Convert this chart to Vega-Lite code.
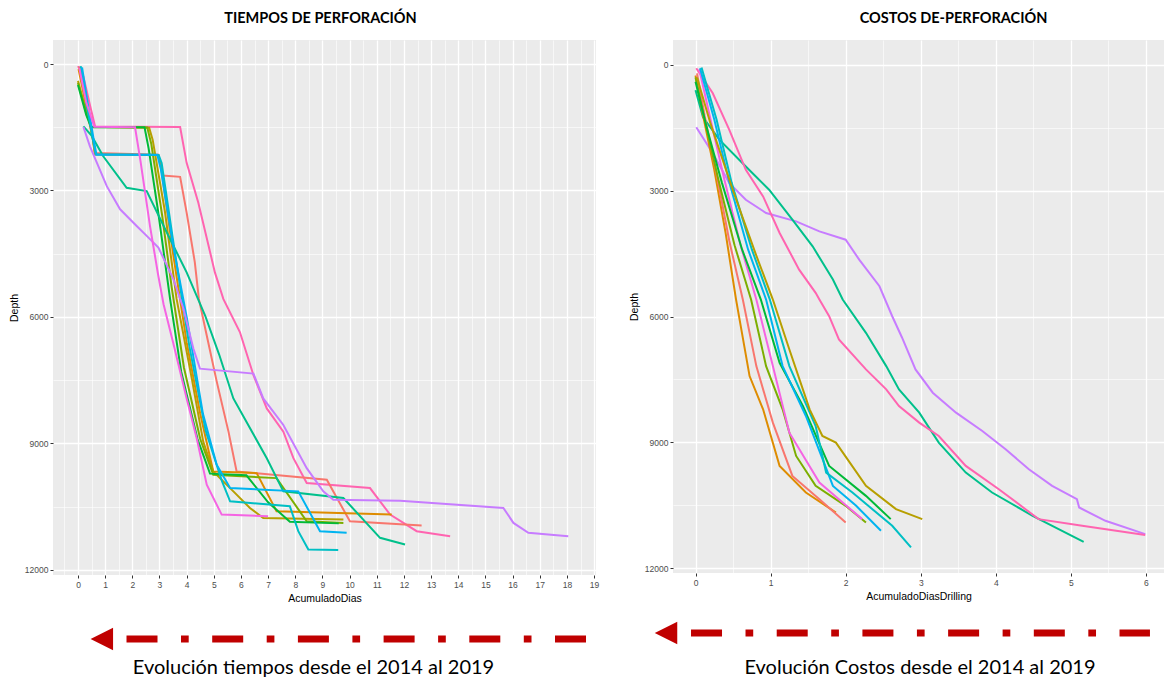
{
"$schema": "https://vega.github.io/schema/vega-lite/v6.json",
"padding": {"left": 9, "top": 10, "right": 0, "bottom": 0},
"spacing": 30,
"config": {
  "view": {"fill": "#EBEBEB", "stroke": null},
  "font": "Liberation Sans",
  "axis": {"labelFont": "Liberation Sans", "labelFontSize": 8.5, "labelColor": "#4D4D4D", "tickColor": "#333333", "tickSize": 3, "tickWidth": 1, "domain": false, "gridColor": "#FFFFFF", "gridWidth": 1.3, "titleFont": "Liberation Sans", "titleFontSize": 10.5, "titleFontWeight": "normal", "titleColor": "#000000", "labelPadding": 2},
  "title": {"font": "Lato", "fontSize": 14.5, "fontWeight": "bold", "color": "#000000"}
},
"datasets": {
"left": [
{"w":"W12","x":0.0,"d":50},{"w":"W12","x":0.2,"d":300},{"w":"W12","x":0.45,"d":1000},{"w":"W12","x":0.63,"d":1480},{"w":"W12","x":3.76,"d":1495},{"w":"W12","x":4.0,"d":2346},{"w":"W12","x":4.43,"d":3290},{"w":"W12","x":5.04,"d":4944},{"w":"W12","x":5.35,"d":5574},{"w":"W12","x":5.96,"d":6360},{"w":"W12","x":6.46,"d":7385},{"w":"W12","x":6.95,"d":8172},{"w":"W12","x":7.56,"d":8723},{"w":"W12","x":7.93,"d":9353},{"w":"W12","x":8.42,"d":9944},{"w":"W12","x":10.75,"d":10062},{"w":"W12","x":11.49,"d":10692},{"w":"W12","x":12.47,"d":11085},{"w":"W12","x":13.7,"d":11203},
{"w":"W01","x":0.05,"d":60},{"w":"W01","x":0.32,"d":1008},{"w":"W01","x":0.55,"d":1800},{"w":"W01","x":0.63,"d":2110},{"w":"W01","x":2.96,"d":2150},{"w":"W01","x":3.12,"d":2645},{"w":"W01","x":3.76,"d":2677},{"w":"W01","x":4.0,"d":3527},{"w":"W01","x":4.3,"d":4700},{"w":"W01","x":4.45,"d":5574},{"w":"W01","x":4.74,"d":6441},{"w":"W01","x":5.11,"d":7542},{"w":"W01","x":5.54,"d":8723},{"w":"W01","x":5.84,"d":9668},{"w":"W01","x":9.16,"d":9866},{"w":"W01","x":10.01,"d":10850},{"w":"W01","x":12.65,"d":10952},
{"w":"W02","x":0.02,"d":120},{"w":"W02","x":0.3,"d":1000},{"w":"W02","x":0.55,"d":1800},{"w":"W02","x":0.62,"d":2148},{"w":"W02","x":2.95,"d":2160},{"w":"W02","x":3.05,"d":2400},{"w":"W02","x":3.5,"d":4500},{"w":"W02","x":4.0,"d":6600},{"w":"W02","x":4.5,"d":8300},{"w":"W02","x":4.98,"d":9668},{"w":"W02","x":6.58,"d":9708},{"w":"W02","x":7.31,"d":10613},{"w":"W02","x":11.55,"d":10692},
{"w":"W03","x":0.0,"d":400},{"w":"W03","x":0.25,"d":1000},{"w":"W03","x":0.5,"d":1490},{"w":"W03","x":2.62,"d":1510},{"w":"W03","x":2.75,"d":1800},{"w":"W03","x":3.2,"d":3500},{"w":"W03","x":3.63,"d":5574},{"w":"W03","x":4.2,"d":7500},{"w":"W03","x":4.61,"d":8960},{"w":"W03","x":4.98,"d":9668},{"w":"W03","x":5.72,"d":10140},{"w":"W03","x":6.33,"d":10534},{"w":"W03","x":6.82,"d":10771},{"w":"W03","x":9.77,"d":10810},
{"w":"W04","x":0.0,"d":450},{"w":"W04","x":0.32,"d":1205},{"w":"W04","x":0.5,"d":1495},{"w":"W04","x":2.55,"d":1505},{"w":"W04","x":2.7,"d":1900},{"w":"W04","x":3.1,"d":3600},{"w":"W04","x":3.45,"d":5300},{"w":"W04","x":3.9,"d":7200},{"w":"W04","x":4.5,"d":8900},{"w":"W04","x":4.98,"d":9747},{"w":"W04","x":7.31,"d":9826},{"w":"W04","x":8.42,"d":10850},{"w":"W04","x":9.77,"d":10889},
{"w":"W05","x":0.0,"d":500},{"w":"W05","x":0.3,"d":1200},{"w":"W05","x":0.48,"d":1500},{"w":"W05","x":2.45,"d":1502},{"w":"W05","x":2.6,"d":2000},{"w":"W05","x":2.95,"d":3500},{"w":"W05","x":3.39,"d":5574},{"w":"W05","x":3.8,"d":7300},{"w":"W05","x":4.4,"d":8900},{"w":"W05","x":4.86,"d":9720},{"w":"W05","x":6.2,"d":9760},{"w":"W05","x":7.0,"d":10400},{"w":"W05","x":7.8,"d":10860},{"w":"W05","x":9.6,"d":10900},
{"w":"W06","x":0.2,"d":1480},{"w":"W06","x":0.5,"d":1700},{"w":"W06","x":0.93,"d":2190},{"w":"W06","x":1.79,"d":2937},{"w":"W06","x":2.53,"d":3016},{"w":"W06","x":3.27,"d":3999},{"w":"W06","x":4.0,"d":4944},{"w":"W06","x":4.68,"d":5968},{"w":"W06","x":5.2,"d":6900},{"w":"W06","x":5.72,"d":7936},{"w":"W06","x":6.95,"d":9353},{"w":"W06","x":7.56,"d":10140},{"w":"W06","x":9.77,"d":10298},{"w":"W06","x":11.12,"d":11243},{"w":"W06","x":12.04,"d":11401},
{"w":"W07","x":0.1,"d":50},{"w":"W07","x":0.3,"d":900},{"w":"W07","x":0.55,"d":1800},{"w":"W07","x":0.65,"d":2140},{"w":"W07","x":2.97,"d":2160},{"w":"W07","x":3.08,"d":2350},{"w":"W07","x":3.55,"d":4400},{"w":"W07","x":4.1,"d":6700},{"w":"W07","x":4.7,"d":8700},{"w":"W07","x":5.3,"d":9900},{"w":"W07","x":5.6,"d":10377},{"w":"W07","x":7.8,"d":10495},{"w":"W07","x":8.11,"d":11085},{"w":"W07","x":8.48,"d":11519},{"w":"W07","x":9.58,"d":11534},
{"w":"W08","x":0.15,"d":80},{"w":"W08","x":0.35,"d":900},{"w":"W08","x":0.58,"d":1800},{"w":"W08","x":0.68,"d":2150},{"w":"W08","x":2.92,"d":2155},{"w":"W08","x":3.05,"d":2500},{"w":"W08","x":3.5,"d":4300},{"w":"W08","x":4.0,"d":6000},{"w":"W08","x":4.6,"d":8300},{"w":"W08","x":5.1,"d":9500},{"w":"W08","x":5.6,"d":10062},{"w":"W08","x":8.11,"d":10140},{"w":"W08","x":8.91,"d":11085},{"w":"W08","x":9.89,"d":11125},
{"w":"W10","x":0.2,"d":1495},{"w":"W10","x":0.44,"d":1953},{"w":"W10","x":1.06,"d":2898},{"w":"W10","x":1.55,"d":3448},{"w":"W10","x":2.16,"d":3842},{"w":"W10","x":2.53,"d":4078},{"w":"W10","x":2.96,"d":4354},{"w":"W10","x":3.51,"d":5102},{"w":"W10","x":3.88,"d":5800},{"w":"W10","x":4.25,"d":6755},{"w":"W10","x":4.49,"d":7228},{"w":"W10","x":6.46,"d":7346},{"w":"W10","x":6.82,"d":7936},{"w":"W10","x":7.56,"d":8566},{"w":"W10","x":8.42,"d":9590},{"w":"W10","x":9.03,"d":10140},{"w":"W10","x":9.4,"d":10338},{"w":"W10","x":11.86,"d":10361},{"w":"W10","x":15.66,"d":10535},{"w":"W10","x":16.03,"d":10889},{"w":"W10","x":16.58,"d":11125},{"w":"W10","x":18.05,"d":11203},
{"w":"W11","x":0.05,"d":100},{"w":"W11","x":0.3,"d":900},{"w":"W11","x":0.6,"d":1490},{"w":"W11","x":2.1,"d":1500},{"w":"W11","x":2.3,"d":2300},{"w":"W11","x":2.65,"d":3842},{"w":"W11","x":2.95,"d":5000},{"w":"W11","x":3.15,"d":5700},{"w":"W11","x":3.5,"d":6600},{"w":"W11","x":4.0,"d":7936},{"w":"W11","x":4.37,"d":8881},{"w":"W11","x":4.74,"d":9984},{"w":"W11","x":5.29,"d":10692},{"w":"W11","x":7.0,"d":10731}
],
"right": [
{"w":"W10","x":0.01,"d":1484},{"w":"W10","x":0.23,"d":2103},{"w":"W10","x":0.45,"d":2817},{"w":"W10","x":0.67,"d":3214},{"w":"W10","x":0.94,"d":3531},{"w":"W10","x":1.34,"d":3731},{"w":"W10","x":1.65,"d":3969},{"w":"W10","x":2.0,"d":4167},{"w":"W10","x":2.18,"d":4643},{"w":"W10","x":2.45,"d":5278},{"w":"W10","x":2.62,"d":5993},{"w":"W10","x":2.75,"d":6500},{"w":"W10","x":2.93,"d":7262},{"w":"W10","x":3.16,"d":7817},{"w":"W10","x":3.47,"d":8293},{"w":"W10","x":3.82,"d":8730},{"w":"W10","x":4.13,"d":9167},{"w":"W10","x":4.44,"d":9643},{"w":"W10","x":4.75,"d":10040},{"w":"W10","x":5.08,"d":10357},{"w":"W10","x":5.11,"d":10555},{"w":"W10","x":5.46,"d":10873},{"w":"W10","x":5.99,"d":11190},
{"w":"W06","x":0.0,"d":600},{"w":"W06","x":0.1,"d":1250},{"w":"W06","x":0.32,"d":1786},{"w":"W06","x":0.67,"d":2421},{"w":"W06","x":0.98,"d":2976},{"w":"W06","x":1.29,"d":3690},{"w":"W06","x":1.56,"d":4326},{"w":"W06","x":1.83,"d":5119},{"w":"W06","x":1.96,"d":5595},{"w":"W06","x":2.27,"d":6389},{"w":"W06","x":2.54,"d":7183},{"w":"W06","x":2.71,"d":7738},{"w":"W06","x":2.98,"d":8293},{"w":"W06","x":3.24,"d":9008},{"w":"W06","x":3.6,"d":9722},{"w":"W06","x":3.95,"d":10198},{"w":"W06","x":4.49,"d":10754},{"w":"W06","x":5.17,"d":11373},
{"w":"W12","x":0.01,"d":79},{"w":"W12","x":0.23,"d":674},{"w":"W12","x":0.45,"d":1548},{"w":"W12","x":0.67,"d":2500},{"w":"W12","x":0.9,"d":3135},{"w":"W12","x":1.12,"d":4008},{"w":"W12","x":1.38,"d":4881},{"w":"W12","x":1.6,"d":5436},{"w":"W12","x":1.65,"d":5595},{"w":"W12","x":1.78,"d":5993},{"w":"W12","x":1.91,"d":6548},{"w":"W12","x":2.27,"d":7262},{"w":"W12","x":2.54,"d":7738},{"w":"W12","x":2.71,"d":8135},{"w":"W12","x":2.98,"d":8531},{"w":"W12","x":3.24,"d":8850},{"w":"W12","x":3.6,"d":9564},{"w":"W12","x":4.04,"d":10119},{"w":"W12","x":4.57,"d":10833},{"w":"W12","x":5.15,"d":10992},{"w":"W12","x":5.99,"d":11214},
{"w":"W02","x":0.0,"d":250},{"w":"W02","x":0.1,"d":1200},{"w":"W02","x":0.25,"d":2500},{"w":"W02","x":0.4,"d":4000},{"w":"W02","x":0.54,"d":5595},{"w":"W02","x":0.72,"d":7421},{"w":"W02","x":0.9,"d":8214},{"w":"W02","x":1.12,"d":9564},{"w":"W02","x":1.47,"d":10198},{"w":"W02","x":1.87,"d":10675},
{"w":"W01","x":0.02,"d":200},{"w":"W01","x":0.12,"d":1200},{"w":"W01","x":0.28,"d":2600},{"w":"W01","x":0.45,"d":4200},{"w":"W01","x":0.63,"d":5595},{"w":"W01","x":0.81,"d":7183},{"w":"W01","x":1.03,"d":8531},{"w":"W01","x":1.29,"d":9802},{"w":"W01","x":1.65,"d":10357},{"w":"W01","x":2.0,"d":10913},
{"w":"W04","x":0.0,"d":300},{"w":"W04","x":0.12,"d":1300},{"w":"W04","x":0.3,"d":2700},{"w":"W04","x":0.52,"d":4300},{"w":"W04","x":0.74,"d":5595},{"w":"W04","x":0.94,"d":7183},{"w":"W04","x":1.16,"d":8214},{"w":"W04","x":1.34,"d":9326},{"w":"W04","x":1.6,"d":10040},{"w":"W04","x":2.0,"d":10516},{"w":"W04","x":2.27,"d":10913},
{"w":"W11","x":0.05,"d":100},{"w":"W11","x":0.2,"d":1300},{"w":"W11","x":0.38,"d":2700},{"w":"W11","x":0.6,"d":4300},{"w":"W11","x":0.81,"d":5595},{"w":"W11","x":1.03,"d":7183},{"w":"W11","x":1.25,"d":8770},{"w":"W11","x":1.65,"d":9960},{"w":"W11","x":1.96,"d":10436},{"w":"W11","x":2.22,"d":10833},
{"w":"W05","x":0.0,"d":400},{"w":"W05","x":0.15,"d":1500},{"w":"W05","x":0.35,"d":2800},{"w":"W05","x":0.62,"d":4400},{"w":"W05","x":0.87,"d":5595},{"w":"W05","x":1.12,"d":7103},{"w":"W05","x":1.43,"d":8135},{"w":"W05","x":1.78,"d":9564},{"w":"W05","x":2.27,"d":10278},{"w":"W05","x":2.6,"d":10833},
{"w":"W08","x":0.06,"d":80},{"w":"W08","x":0.25,"d":1300},{"w":"W08","x":0.45,"d":2800},{"w":"W08","x":0.7,"d":4400},{"w":"W08","x":0.94,"d":5595},{"w":"W08","x":1.16,"d":7183},{"w":"W08","x":1.47,"d":8373},{"w":"W08","x":1.83,"d":10040},{"w":"W08","x":2.14,"d":10516},{"w":"W08","x":2.47,"d":11111},
{"w":"W07","x":0.08,"d":60},{"w":"W07","x":0.28,"d":1300},{"w":"W07","x":0.48,"d":2800},{"w":"W07","x":0.75,"d":4400},{"w":"W07","x":0.99,"d":5595},{"w":"W07","x":1.25,"d":7183},{"w":"W07","x":1.6,"d":8612},{"w":"W07","x":1.74,"d":9722},{"w":"W07","x":2.09,"d":10198},{"w":"W07","x":2.62,"d":10992},{"w":"W07","x":2.87,"d":11508},
{"w":"W03","x":0.02,"d":300},{"w":"W03","x":0.2,"d":1400},{"w":"W03","x":0.5,"d":3000},{"w":"W03","x":0.8,"d":4500},{"w":"W03","x":1.03,"d":5595},{"w":"W03","x":1.25,"d":6786},{"w":"W03","x":1.52,"d":8214},{"w":"W03","x":1.69,"d":8850},{"w":"W03","x":1.87,"d":9008},{"w":"W03","x":2.27,"d":10040},{"w":"W03","x":2.67,"d":10595},{"w":"W03","x":3.02,"d":10833}
],
"leftArrow": [{"x": 1.786, "x2": 18.72, "d": 13644}],
"leftTip": [{"x": 0.878, "d": 13644}],
"leftCap": [{"x": 8.67, "d": 14332, "t": "Evolución tiempos desde el 2014 al 2019"}],
"rightArrow": [{"x": -0.06, "x2": 6.053, "d": 13550}],
"rightTip": [{"x": -0.393, "d": 13550}],
"rightCap": [{"x": 2.99, "d": 14385, "t": "Evolución Costos desde el 2014 al 2019"}]
},
"hconcat": [
{
  "width": 543, "height": 535,
  "title": {"text": "TIEMPOS DE PERFORACIÓN", "frame": "group", "anchor": "middle", "dx": -4, "offset": 14},
  "layer": [
    {"data": {"name": "left"}, "mark": {"type": "line", "strokeWidth": 2},
     "encoding": {
       "x": {"field": "x", "type": "quantitative", "scale": {"domain": [-0.92, 19.07], "nice": false, "zero": false},
             "axis": {"title": "AcumuladoDias", "values": [0,1,2,3,4,5,6,7,8,9,10,11,12,13,14,15,16,17,18,19], "titlePadding": 5}},
       "y": {"field": "d", "type": "quantitative", "scale": {"domain": [-570, 12125], "reverse": true, "nice": false, "zero": false},
             "axis": {"title": "Depth", "values": [0,3000,6000,9000,12000], "titlePadding": 5, "format": "d"}},
       "color": {"field": "w", "type": "nominal", "legend": null,
                 "scale": {"domain": ["W01","W02","W03","W04","W05","W06","W07","W08","W10","W11","W12"],
                           "range": ["#F8766D","#DE8C00","#B79F00","#7CAE00","#00BA38","#00C08B","#00BFC4","#00B4F0","#C77CFF","#F564E3","#FF64B0"]}},
       "order": {"field": "d", "type": "quantitative"}
     }},
    {"data": {"name": "leftArrow"}, "mark": {"type": "rule", "color": "#C00000", "strokeWidth": 7, "strokeDash": [31, 23.5, 7.7, 23.5], "strokeCap": "butt"},
     "encoding": {
       "x": {"field": "x", "type": "quantitative", "axis": {"orient": "top", "labels": false, "ticks": false, "domain": false, "title": null, "grid": true, "gridWidth": 0.6, "values": [-0.5,0.5,1.5,2.5,3.5,4.5,5.5,6.5,7.5,8.5,9.5,10.5,11.5,12.5,13.5,14.5,15.5,16.5,17.5,18.5]}},
       "x2": {"field": "x2"},
       "y": {"field": "d", "type": "quantitative", "axis": {"orient": "right", "labels": false, "ticks": false, "domain": false, "title": null, "grid": true, "gridWidth": 0.6, "values": [1500,4500,7500,10500]}}
     }},
    {"data": {"name": "leftTip"}, "mark": {"type": "point", "shape": "M-1,0L1,-1L1,1Z", "filled": true, "color": "#C00000", "size": 506, "opacity": 1, "strokeWidth": 0},
     "encoding": {"x": {"field": "x", "type": "quantitative", "axis": null}, "y": {"field": "d", "type": "quantitative", "axis": null}}},
    {"data": {"name": "leftCap"}, "mark": {"type": "text", "font": "Lato", "fontSize": 20, "color": "#000000", "baseline": "middle", "align": "center"},
     "encoding": {"x": {"field": "x", "type": "quantitative", "axis": null}, "y": {"field": "d", "type": "quantitative", "axis": null}, "text": {"field": "t"}}}
  ],
  "resolve": {"axis": {"x": "independent", "y": "independent"}}
},
{
  "width": 491, "height": 533,
  "title": {"text": "COSTOS DE-PERFORACIÓN", "frame": "group", "anchor": "middle", "dx": 35, "offset": 14},
  "layer": [
    {"data": {"name": "right"}, "mark": {"type": "line", "strokeWidth": 2},
     "encoding": {
       "x": {"field": "x", "type": "quantitative", "scale": {"domain": [-0.3, 6.24], "nice": false, "zero": false},
             "axis": {"title": "AcumuladoDiasDrilling", "values": [0,1,2,3,4,5,6], "titlePadding": 5}},
       "y": {"field": "d", "type": "quantitative", "scale": {"domain": [-596, 12118], "reverse": true, "nice": false, "zero": false},
             "axis": {"title": "Depth", "values": [0,3000,6000,9000,12000], "titlePadding": 5, "format": "d"}},
       "color": {"field": "w", "type": "nominal", "legend": null,
                 "scale": {"domain": ["W01","W02","W03","W04","W05","W06","W07","W08","W10","W11","W12"],
                           "range": ["#F8766D","#DE8C00","#B79F00","#7CAE00","#00BA38","#00C08B","#00BFC4","#00B4F0","#C77CFF","#F564E3","#FF64B0"]}},
       "order": {"field": "d", "type": "quantitative"}
     }},
    {"data": {"name": "rightArrow"}, "mark": {"type": "rule", "color": "#C00000", "strokeWidth": 7, "strokeDash": [31, 23.5, 7.7, 23.5], "strokeCap": "butt"},
     "encoding": {
       "x": {"field": "x", "type": "quantitative", "axis": {"orient": "top", "labels": false, "ticks": false, "domain": false, "title": null, "grid": true, "gridWidth": 0.6, "values": [0.5,1.5,2.5,3.5,4.5,5.5]}},
       "x2": {"field": "x2"},
       "y": {"field": "d", "type": "quantitative", "axis": {"orient": "right", "labels": false, "ticks": false, "domain": false, "title": null, "grid": true, "gridWidth": 0.6, "values": [1500,4500,7500,10500]}}
     }},
    {"data": {"name": "rightTip"}, "mark": {"type": "point", "shape": "M-1,0L1,-1L1,1Z", "filled": true, "color": "#C00000", "size": 506, "opacity": 1, "strokeWidth": 0},
     "encoding": {"x": {"field": "x", "type": "quantitative", "axis": null}, "y": {"field": "d", "type": "quantitative", "axis": null}}},
    {"data": {"name": "rightCap"}, "mark": {"type": "text", "font": "Lato", "fontSize": 20, "color": "#000000", "baseline": "middle", "align": "center"},
     "encoding": {"x": {"field": "x", "type": "quantitative", "axis": null}, "y": {"field": "d", "type": "quantitative", "axis": null}, "text": {"field": "t"}}}
  ],
  "resolve": {"axis": {"x": "independent", "y": "independent"}}
}
]
}
